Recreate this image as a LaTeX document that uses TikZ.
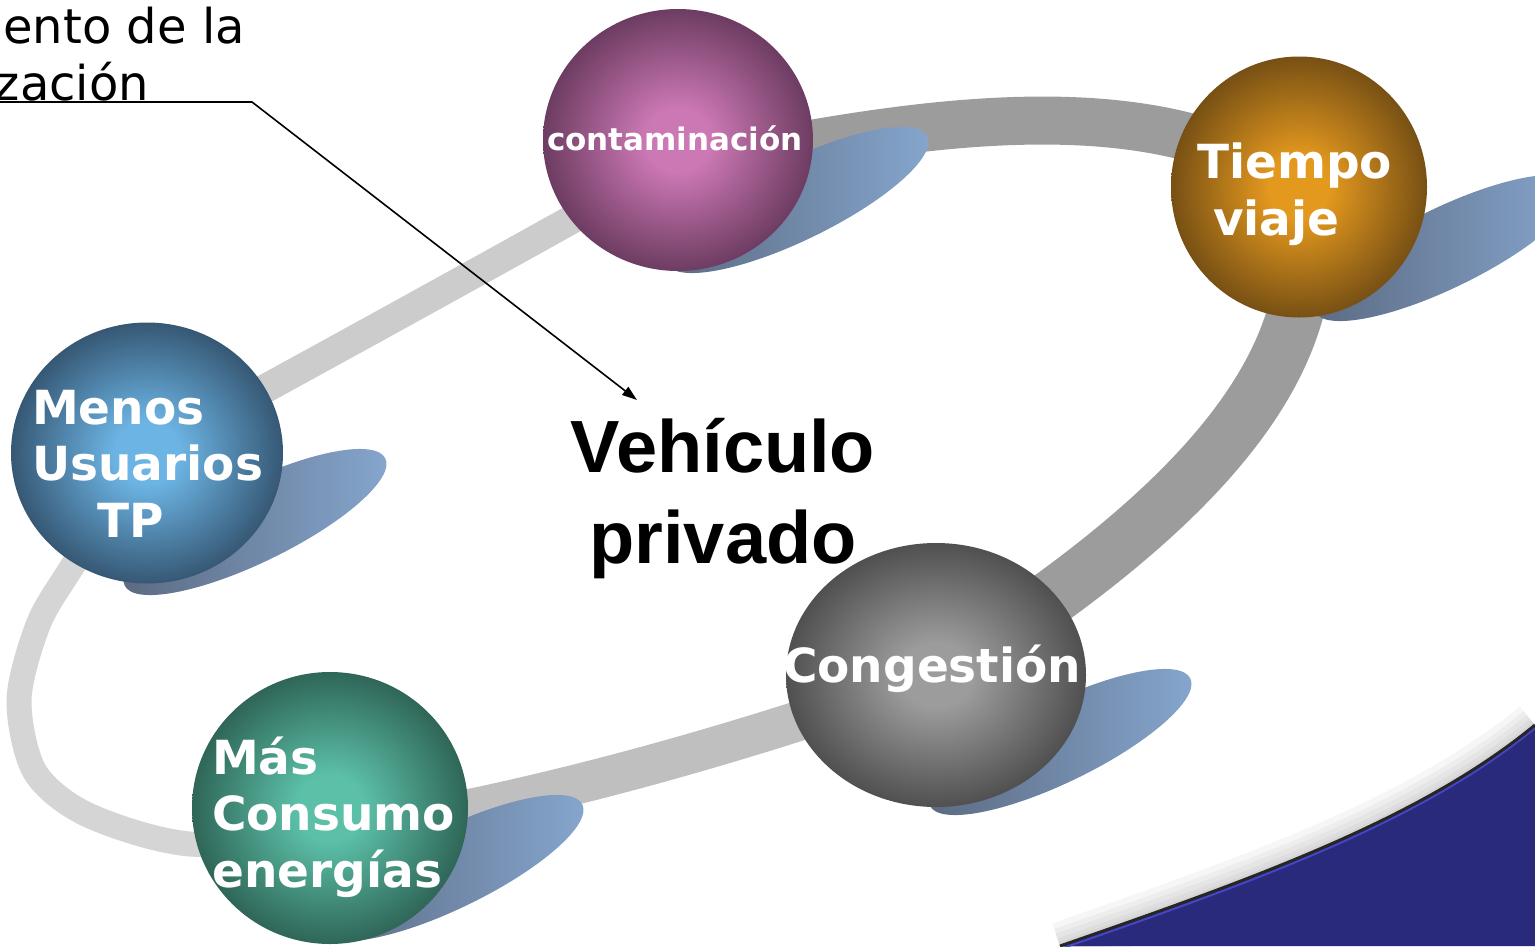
\documentclass[tikz,border=0pt]{standalone}
\usepackage{fontspec}
\setmainfont{DejaVu Sans}
\newfontfamily\arialfont{Liberation Sans}
\usetikzlibrary{shapes.geometric,arrows.meta,positioning}

\definecolor{navy}{HTML}{2A2A7C}
\definecolor{navyedge}{HTML}{4646C4}
\definecolor{shadowdark}{HTML}{5B6980}
\definecolor{shadowlight}{HTML}{86A7CF}
\definecolor{pinkin}{HTML}{CC78B4}
\definecolor{pinkout}{HTML}{45233F}
\definecolor{orangein}{HTML}{E3981E}
\definecolor{orangeout}{HTML}{4A3210}
\definecolor{bluein}{HTML}{6CB4E4}
\definecolor{blueout}{HTML}{1F3145}
\definecolor{tealin}{HTML}{5CC0A8}
\definecolor{tealout}{HTML}{1C4036}
\definecolor{greyin}{HTML}{9C9C9C}
\definecolor{greyout}{HTML}{303030}

\newcommand{\orbshading}[3]{\pgfdeclareradialshading{#1}{\pgfpoint{0bp}{0bp}}{%
  color(0bp)=(#2); color(6bp)=(#2); color(33bp)=(#3); color(50bp)=(#3)}}
\orbshading{orbpink}{pinkin}{pinkout}
\orbshading{orborange}{orangein}{orangeout}
\orbshading{orbblue}{bluein}{blueout}
\orbshading{orbteal}{tealin}{tealout}
\orbshading{orbgrey}{greyin}{greyout}

\tikzset{sphere/.style={ellipse,inner sep=0pt,shade,shading=#1}}
\tikzset{blob/.style={ellipse,inner sep=0pt,minimum width=290pt,minimum height=80pt,
    rotate=26,left color=shadowdark,right color=shadowlight}}
\tikzset{ring/.style={line cap=butt}}
\tikzset{lbl/.style={text=white,inner sep=0pt,align=left,
    font=\bfseries\fontsize{47}{56.5}\selectfont}}
\tikzset{callout/.style={line width=1.6pt,-{Triangle[length=15pt,width=10pt]}}}

\begin{document}
\begin{tikzpicture}[x=1pt,y=-1pt]
    \path[use as bounding box] (0,0) rectangle (1535,946);
    \clip (0,0) rectangle (1535,946);

    % fondo
    \foreach \w in {48,36,26,16,8}
      \draw[line width=\w pt,black,opacity=0.035] (1060,946) .. controls (1250,880) and (1420,820) .. (1535,725);
    \fill[navy] (1060,946) .. controls (1250,880) and (1420,820) .. (1535,725) -- (1535,946) -- cycle;
    \draw[navyedge,line width=2pt,yshift=-3pt] (1060,946) .. controls (1250,880) and (1420,820) .. (1535,725);
    \draw[black!85,line width=3pt] (1060,946) .. controls (1250,880) and (1420,820) .. (1535,725);

    % anillo
    \draw[ring,line width=48pt,color=gray!78] (700,165) .. controls (900,125) and (1150,80) .. (1299,187);
    \draw[ring,line width=56pt,color=gray!78] (1299,187) .. controls (1330,330) and (1250,480) .. (936,675);
    \draw[ring,line width=40pt,color=gray!50] (936,675) .. controls (750,740) and (550,800) .. (330,835);
    \draw[ring,line width=25pt,color=gray!33] plot[smooth] coordinates {(330,835) (190,844) (88,815) (35,772) (19,700) (38,625) (70,570) (147,453)};
    \draw[ring,line width=29pt,color=gray!40] (147,453) .. controls (300,370) and (500,260) .. (678,160);

    % sombras
    \node[blob] (shContam) at (797,200) {};
    \node[blob] (shTiempo) at (1445,248) {};
    \node[blob] (shMenos) at (255,522) {};
    \node[blob] (shMas) at (452,868) {};
    \node[blob] (shCong) at (1060,742) {};

    % esferas
    \node[sphere=orbpink,minimum width=270pt,minimum height=262pt] (contam) at (678,140) {};
    \node[sphere=orborange,minimum width=256pt,minimum height=261pt] (tiempo) at (1299,187) {};
    \node[sphere=orbblue,minimum width=272pt,minimum height=261pt] (menos) at (147,453) {};
    \node[sphere=orbteal,minimum width=276pt,minimum height=272pt] (mas) at (330,808) {};
    \node[sphere=orbgrey,minimum width=300pt,minimum height=264pt] (cong) at (936,675) {};

    % textos
    \node[lbl,font=\bfseries\fontsize{31}{36}\selectfont,anchor=base] (contamText) at (675,150) {contaminación};
    \node[lbl,anchor=base west] (tiempoText) at (1197,235) {Tiempo\\\hspace*{16pt}viaje};
    \node[lbl,anchor=base west] (menosText) at (32,537) {Menos\\Usuarios\\\hspace*{65pt}TP};
    \node[lbl,anchor=base west] (masText) at (212,887) {Más\\Consumo\\energías};
    \node[lbl,anchor=base west] (congText) at (783,682) {Congestión};

    \node[font=\arialfont\bfseries\fontsize{74}{91}\selectfont,align=center,inner sep=0pt,anchor=base] (vehiculo) at (723,563) {Vehículo\\privado};

    \node[font=\fontsize{48}{57}\selectfont,align=left,inner sep=0pt,anchor=base east] (motor) at (245,100) {Incremento de la\\motorización};

    \coordinate (kink) at (252,102);
    \coordinate (tip) at (637,400);
    \draw[callout] (kink -| motor.west) -- (kink) -- (tip);
\end{tikzpicture}
\end{document}
